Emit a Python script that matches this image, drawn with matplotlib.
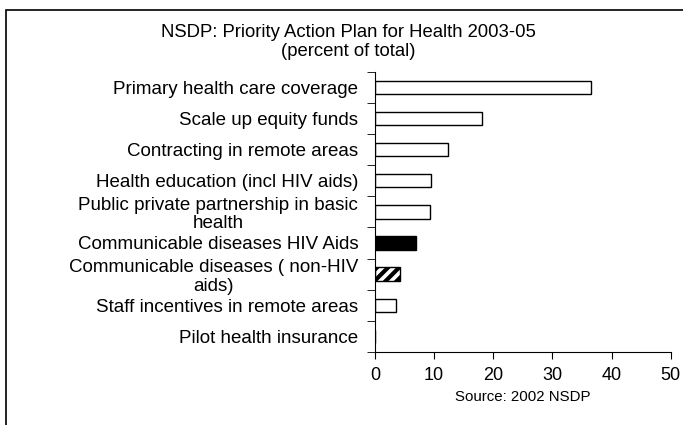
import matplotlib
matplotlib.use("Agg")
import matplotlib.pyplot as plt
from matplotlib.patches import Rectangle
import numpy as np

plt.rcParams['font.family'] = ['Liberation Sans', 'DejaVu Sans']
plt.rcParams['hatch.linewidth'] = 3.0

categories = [
    "Primary health care coverage",
    "Scale up equity funds",
    "Contracting in remote areas",
    "Health education (incl HIV aids)",
    "Public private partnership in basic\nhealth",
    "Communicable diseases HIV Aids",
    "Communicable diseases ( non-HIV\naids)",
    "Staff incentives in remote areas",
    "Pilot health insurance",
]
values = [36.5, 18.1, 12.4, 9.5, 9.3, 6.9, 4.3, 3.6, 0.0]
x_ticks = [0, 10, 20, 30, 40, 50]

fig = plt.figure(figsize=(6.83, 4.25), dpi=100)
ax = fig.add_axes([0.549, 0.172, 0.433, 0.659])

# figure frame (runs off the right and bottom edges like the original)
fig.patches.append(Rectangle((6 / 683, -0.1), 1.2, 1 - 10 / 425 + 0.1,
                             transform=fig.transFigure, fill=False,
                             edgecolor='black', linewidth=1.2))

y = np.arange(len(categories))
faces = ['white'] * len(categories)
hatches = [None] * len(categories)
faces[5] = 'black'
hatches[6] = '///'
for i in range(len(categories)):
    ax.barh(y[i], values[i], height=0.43, color=faces[i], edgecolor='black',
            linewidth=1.0, hatch=hatches[i])

ax.set_ylim(len(categories) - 0.5, -0.5)
ax.set_xlim(0, 50)
ax.set_xticks(x_ticks)
ax.set_yticks(y)
ax.set_yticklabels(categories, fontsize=13.5)
plt.setp(ax.get_yticklabels(), multialignment='center', linespacing=1.12)
ax.tick_params(axis='y', which='major', length=0, pad=12)
ax.set_yticks(np.arange(-0.5, len(categories)), minor=True)
ax.tick_params(axis='y', which='minor', length=6, direction='out')
ax.tick_params(axis='x', labelsize=13, length=5, direction='out', pad=6)

for s in ['top', 'right']:
    ax.spines[s].set_visible(False)

ax.set_xlabel("Source: 2002 NSDP", fontsize=10.8, labelpad=4)
fig.text(0.51, 0.943, "NSDP: Priority Action Plan for Health 2003-05\n(percent of total)",
         ha='center', va='top', fontsize=13.3, linespacing=1.15)

fig.savefig("out.png", dpi=100)
